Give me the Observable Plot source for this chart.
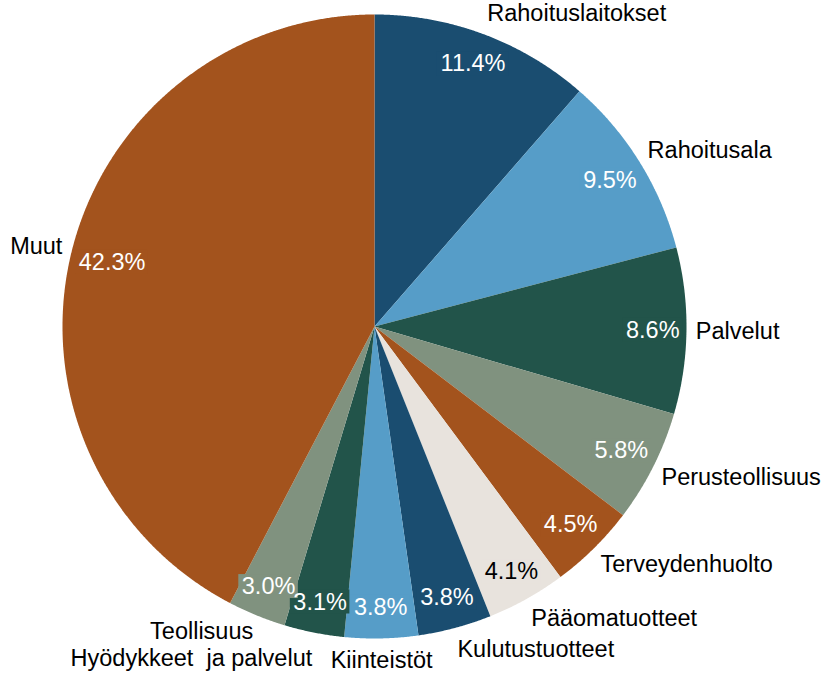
<!DOCTYPE html>
<html>
<head>
<meta charset="utf-8">
<script src="https://cdn.jsdelivr.net/npm/d3@7"></script>
<script src="https://cdn.jsdelivr.net/npm/@observablehq/plot@0.6"></script>
<style>
  html, body { margin: 0; padding: 0; background: #fff; }
  svg text { white-space: pre; }
</style>
</head>
<body>
<div id="chart"></div>
<script>
// ---- data ----
const names = [
  "Rahoituslaitokset", "Rahoitusala", "Palvelut", "Perusteollisuus",
  "Terveydenhuolto", "Pääomatuotteet", "Kulutustuotteet", "Kiinteistöt",
  "Hyödykkeet  ja palvelut", "Teollisuus", "Muut"
];
const shares = [11.4, 9.5, 8.6, 5.8, 4.5, 4.1, 3.8, 3.8, 3.1, 3.0, 42.3];
const valueLabels = shares.map(v => v.toFixed(1) + "%");

// ---- style ----
const palette = ["#1a4d70", "#569dc8", "#22544a", "#80927f", "#a3531d", "#e8e3dd"];
const W = 827, H = 681;
const cx = 374, cy = 326, R = 312;     // pie layout in pixels
const fontSize = 23.5;

const arcs = d3.pie().sort(null).value(d => d)(shares);

// slice polygons (unit circle, y up, angle clockwise from top)
const poly = [];
arcs.forEach((a, i) => {
  const color = palette[i % palette.length];
  poly.push({name: names[i], color, x: 0, y: 0});
  const n = Math.max(2, Math.ceil((a.endAngle - a.startAngle) / 0.004));
  for (let k = 0; k <= n; k++) {
    const t = a.startAngle + (a.endAngle - a.startAngle) * k / n;
    poly.push({name: names[i], color, x: Math.sin(t), y: Math.cos(t)});
  }
});

// value labels inside (pulled in until their box fits inside the pie)
const charW = ch => ch === "." ? 0.278 : ch === "%" ? 0.889 : 0.556;
const inner = arcs.map((a, i) => {
  const m = (a.startAngle + a.endAngle) / 2;
  const color = palette[i % palette.length];
  const hw = ([...valueLabels[i]].reduce((s, c) => s + charW(c), 0) * fontSize + 6) / 2 / R;
  const hh = 12 / R;
  let r = 0.9;
  const fits = r => {
    const x = Math.sin(m) * r, y = Math.cos(m) * r;
    return [[-1, -1], [-1, 1], [1, -1], [1, 1]].every(([sx, sy]) =>
      Math.hypot(x + sx * hw, y + sy * hh) <= 0.99);
  };
  while (r > 0.5 && !fits(r)) r -= 0.002;
  const x = Math.sin(m) * r, y = Math.cos(m) * r;
  return {
    label: valueLabels[i], color, x, y,
    x1: x - hw, x2: x + hw, y1: y - hh, y2: y + hh,
    text: d3.hsl(color).l > 0.7 ? "#000" : "#fff"
  };
});

// category labels outside
const outer = arcs.map((a, i) => {
  const m = (a.startAngle + a.endAngle) / 2;
  const s = Math.sin(m), c = Math.cos(m);
  const anchor = s > 0.1 ? "start" : s < -0.1 ? "end" : "middle";
  const x = s * 1.03, y = c * 1.03 + c * 13 / R;
  const w = names[i].length * 0.47 * fontSize / R;
  const x0 = anchor === "start" ? x : anchor === "end" ? x - w : x - w / 2;
  return {name: names[i], x, y, anchor, x0, x1: x0 + w};
});
// simple vertical de-overlap of outside labels
const lineH = 27 / R;
for (let iter = 0; iter < 20; iter++) {
  for (let i = 0; i < outer.length; i++) {
    for (let j = i + 1; j < outer.length; j++) {
      const p = outer[i], q = outer[j];
      if (p.x1 < q.x0 || q.x1 < p.x0) continue;
      const gap = Math.abs(p.y - q.y);
      if (gap < lineH) {
        const push = (lineH - gap) / 2;
        if (p.y > q.y) { p.y += push; q.y -= push; } else { p.y -= push; q.y += push; }
      }
    }
  }
}

const chart = Plot.plot({
  width: W, height: H, margin: 0,
  style: {fontFamily: "'Liberation Sans', Arial, sans-serif", background: "#fff"},
  x: {domain: [-cx / R, (W - cx) / R], range: [0, W], axis: null},
  y: {domain: [cy / R, -(H - cy) / R], range: [0, H], axis: null},
  color: {type: "identity"},
  marks: [
    Plot.line(poly, {x: "x", y: "y", z: "name", fill: "color", stroke: "none", curve: "linear-closed"}),
    Plot.rect(inner, {x1: "x1", x2: "x2", y1: "y1", y2: "y2", fill: "color"}),
    Plot.text(inner, {x: "x", y: "y", text: "label", fill: "text", fontSize, textAnchor: "middle", lineAnchor: "middle"}),
    ...["start", "middle", "end"].map(anchor =>
      Plot.text(outer.filter(d => d.anchor === anchor), {
        x: "x", y: "y", text: "name", fill: "#000", fontSize, textAnchor: anchor, lineAnchor: "middle"
      })
    )
  ]
});
document.getElementById("chart").appendChild(chart);
</script>
</body>
</html>
